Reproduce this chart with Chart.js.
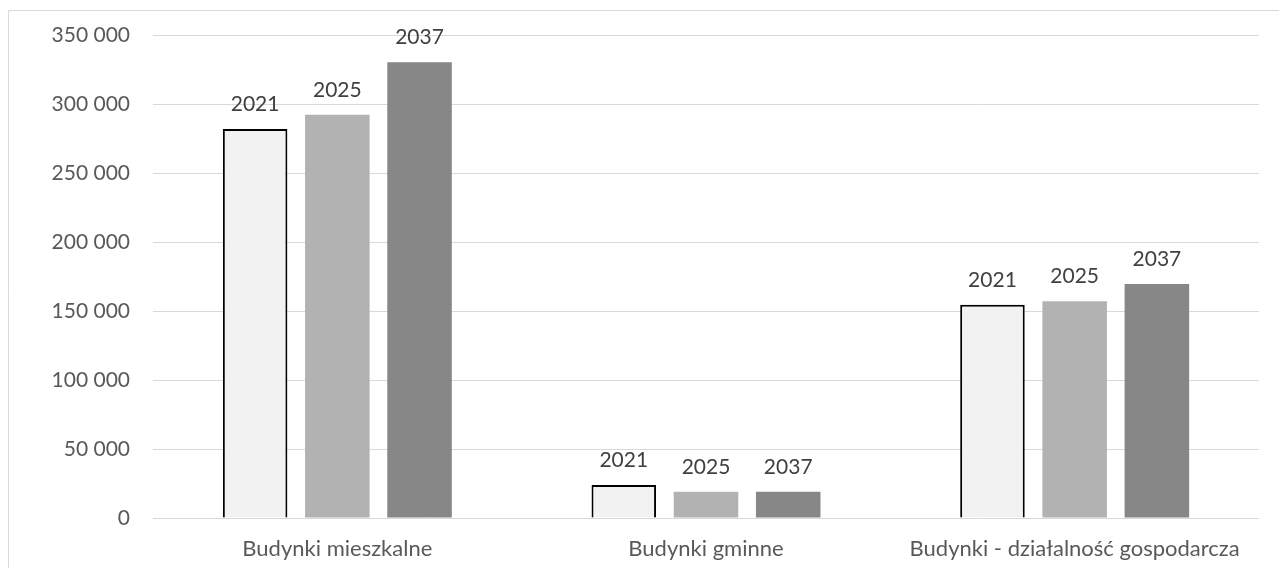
<!DOCTYPE html>
<html>
<head>
<meta charset="utf-8">
<script src="https://cdn.jsdelivr.net/npm/chart.js@4"></script>
<style>
  html, body { margin: 0; padding: 0; background: #fff; }
  #wrap { width: 1279px; height: 568px; position: relative; }
</style>
</head>
<body>
<div id="wrap"><canvas id="barChart"></canvas></div>
<script>
// categories and series
var categories = ["Budynki mieszkalne", "Budynki gminne", "Budynki - działalność gospodarcza"];
var years = ["2021", "2025", "2037"];
var values2021 = [282300, 24000, 154800];
var values2025 = [292600, 19100, 157200];
var values2037 = [330600, 19100, 169700];
var yTicks = [0, 50000, 100000, 150000, 200000, 250000, 300000, 350000];

Chart.defaults.font.family = "Lato, 'Open Sans', sans-serif";
Chart.defaults.font.size = 21;
Chart.defaults.color = '#595959';

function spaced(v) {
  return String(v).replace(/\B(?=(\d{3})+(?!\d))/g, ' ');
}

// series name above every bar
var seriesLabels = {
  id: 'seriesLabels',
  afterDatasetsDraw: function (chart) {
    var ctx = chart.ctx;
    ctx.save();
    ctx.font = "21px Lato, 'Open Sans', sans-serif";
    ctx.fillStyle = '#404040';
    ctx.textAlign = 'center';
    ctx.textBaseline = 'alphabetic';
    chart.data.datasets.forEach(function (ds, i) {
      chart.getDatasetMeta(i).data.forEach(function (bar) {
        ctx.fillText(ds.label, bar.x, bar.y - 18);
      });
    });
    ctx.restore();
  }
};

// light frame round the chart
var frame = {
  id: 'frame',
  beforeDraw: function (chart) {
    var ctx = chart.ctx;
    ctx.save();
    ctx.strokeStyle = '#d9d9d9';
    ctx.lineWidth = 1;
    ctx.beginPath();
    ctx.moveTo(8.5, chart.height);
    ctx.lineTo(8.5, 10.5);
    ctx.lineTo(chart.width, 10.5);
    ctx.stroke();
    ctx.restore();
  }
};

var ctxB = document.getElementById("barChart").getContext('2d');
var myBarChart = new Chart(ctxB, {
  type: 'bar',
  data: {
    labels: categories,
    datasets: [{
      label: years[0],
      data: values2021,
      backgroundColor: '#f2f2f2',
      borderColor: '#000000',
      borderWidth: 2
    },
    {
      label: years[1],
      data: values2025,
      backgroundColor: '#b2b2b2',
      borderWidth: 0
    },
    {
      label: years[2],
      data: values2037,
      backgroundColor: '#878787',
      borderWidth: 0
    }]
  },
  options: {
    responsive: true,
    maintainAspectRatio: false,
    animation: false,
    barPercentage: 0.785,
    categoryPercentage: 0.669,
    layout: { padding: { top: 34, right: 20, left: 0, bottom: 0 } },
    plugins: {
      legend: { display: false },
      tooltip: { enabled: false }
    },
    scales: {
      x: {
        grid: { display: false, drawTicks: false },
        border: { display: false },
        ticks: { padding: 18, color: '#595959', font: { size: 22 } },
        afterFit: function (scale) { scale.height = 50; }
      },
      y: {
        min: 0,
        max: 350000,
        afterBuildTicks: function (scale) {
          scale.ticks = yTicks.map(function (v) { return { value: v }; });
        },
        grid: { color: '#d9d9d9', lineWidth: 1, drawTicks: false },
        border: { display: false },
        ticks: {
          padding: 23,
          color: '#595959',
          callback: function (v) { return spaced(v); }
        },
        afterFit: function (scale) { scale.width = 153; }
      }
    }
  },
  plugins: [frame, seriesLabels]
});
</script>
</body>
</html>
